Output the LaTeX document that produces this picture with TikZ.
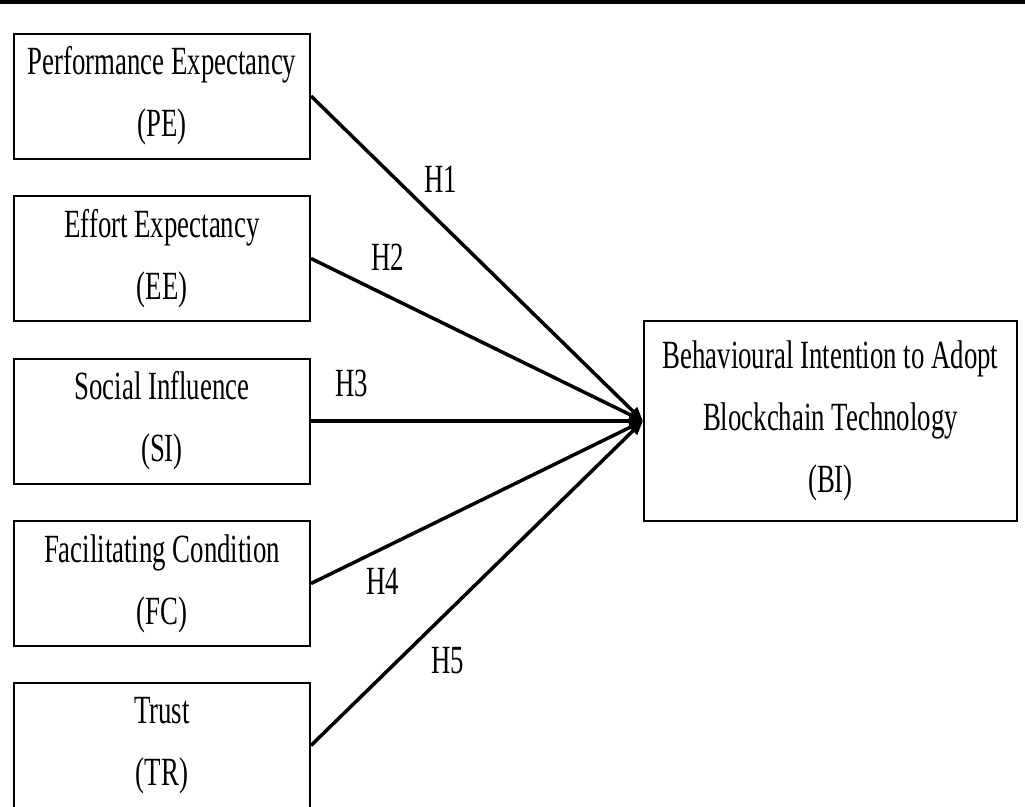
\documentclass[tikz,border=0pt]{standalone}
\usepackage{fontspec}
\setmainfont{Liberation Serif}[FakeStretch=0.67]
\usetikzlibrary{arrows.meta}
\begin{document}
\begin{tikzpicture}[x=1pt,y=-1pt,
  box/.style={draw, line width=2pt, align=center, inner sep=0pt,
    font=\fontsize{40}{62}\selectfont,
    execute at begin node={\rule{0pt}{39pt}}},
  cbox/.style={box, minimum width=296pt, minimum height=125pt},
  link/.style={line width=3.5pt, -{Triangle[length=14pt,width=11pt]}},
  hyp/.style={font=\fontsize{40}{48}\selectfont, inner sep=0pt}]
\useasboundingbox (0,0) rectangle (1025,806);
\clip (0,0) rectangle (1025,806);
\fill (0,0) rectangle (1025,4);
\node[cbox] (PE) at (162,96) {Performance Expectancy\\(PE)};
\node[cbox] (EE) at (162,258.5) {Effort Expectancy\\(EE)};
\node[cbox] (SI) at (162,421) {Social Influence\\(SI)};
\node[cbox] (FC) at (162,583.5) {Facilitating Condition\\(FC)};
\node[cbox] (TR) at (162,745.5) {Trust\\(TR)};
\node[box, minimum width=373pt, minimum height=200pt] (BI) at (830.5,421)
  {Behavioural Intention to Adopt\\Blockchain Technology\\(BI)};
\draw[link] (PE.east) -- (BI.west);
\draw[link] (EE.east) -- (BI.west);
\draw[link] (SI.east) -- (BI.west);
\draw[link] (FC.east) -- (BI.west);
\draw[link] (TR.east) -- (BI.west);
\node[hyp] (h1) at (441,179) {H1};
\node[hyp] (h2) at (388,257) {H2};
\node[hyp] (h3) at (352,383) {H3};
\node[hyp] (h4) at (383,581) {H4};
\node[hyp] (h5) at (448,661) {H5};
\end{tikzpicture}
\end{document}
